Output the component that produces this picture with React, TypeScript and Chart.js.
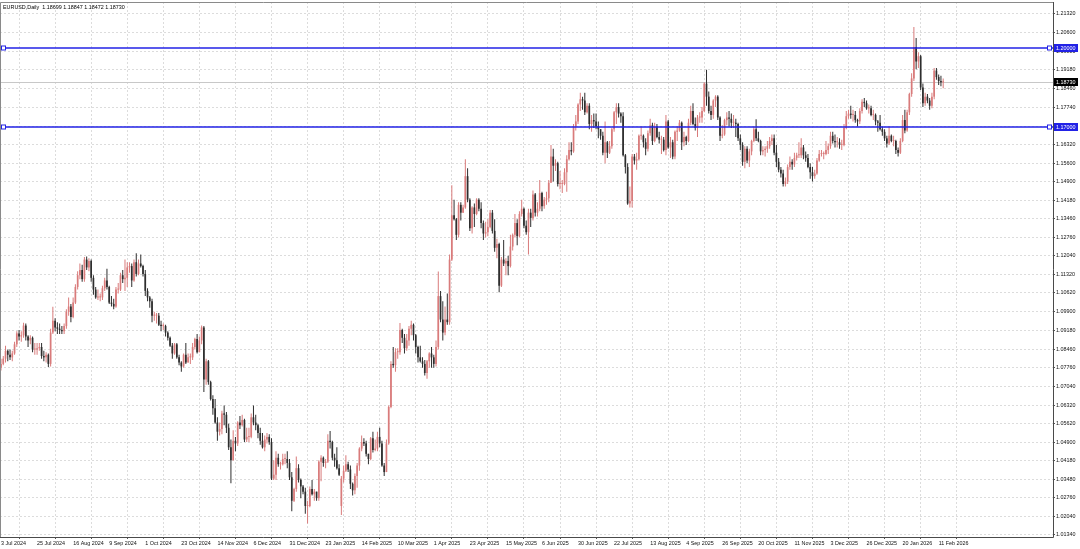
import { useEffect, useRef } from "react";
import { Chart, registerables } from "chart.js";

Chart.register(...registerables);

const SYMBOL_TITLE = "EURUSD,Daily";
const PIP = 10000;

const dateTickIndexes = [0, 16, 32, 48, 64, 80, 96, 112, 128, 144, 160, 176, 192, 208, 224, 240, 256, 272, 288, 304, 320, 336, 352, 368, 384, 400, 416];
const dateLabels = ["3 Jul 2024", "25 Jul 2024", "16 Aug 2024", "9 Sep 2024", "1 Oct 2024", "23 Oct 2024", "14 Nov 2024", "6 Dec 2024", "31 Dec 2024", "23 Jan 2025", "14 Feb 2025", "10 Mar 2025", "1 Apr 2025", "23 Apr 2025", "15 May 2025", "6 Jun 2025", "30 Jun 2025", "22 Jul 2025", "13 Aug 2025", "4 Sep 2025", "26 Sep 2025", "20 Oct 2025", "11 Nov 2025", "3 Dec 2025", "26 Dec 2025", "20 Jan 2026", "11 Feb 2026"];

const priceTicks = [1.2132, 1.206, 1.1988, 1.1918, 1.1846, 1.1774, 1.1702, 1.1632, 1.156, 1.149, 1.1418, 1.1346, 1.1276, 1.1204, 1.1132, 1.1062, 1.099, 1.0918, 1.0846, 1.0776, 1.0704, 1.0632, 1.0562, 1.049, 1.0418, 1.0348, 1.0276, 1.0204, 1.0134];

const levelLines = [1.2, 1.17];

// prices in pips (x 1e-4)
const opens = [
  10775, 10790, 10810,
  10840, 10825, 10815, 10830, 10865,
  10907, 10895, 10900, 10937, 10895,
  10880, 10890, 10845, 10845, 10850,
  10855, 10820, 10815, 10825, 10790,
  10910, 10955, 10930, 10925, 10920,
  10915, 10935, 10990, 11010, 10970,
  11025, 11085, 11130, 11150, 11115,
  11190, 11160, 11185, 11120, 11075,
  11045, 11045, 11045, 11080, 11110,
  11085, 11025, 11020, 11010, 11075,
  11075, 11130, 11115, 11120, 11160,
  11165, 11110, 11180, 11135, 11175,
  11165, 11135, 11070, 11045, 11030,
  10975, 10975, 10975, 10940, 10935,
  10935, 10910, 10890, 10860, 10830,
  10865, 10815, 10795, 10780, 10825,
  10795, 10815, 10815, 10855, 10885,
  10835, 10880, 10930, 10730, 10800,
  10720, 10655, 10620, 10565, 10530,
  10540, 10600, 10595, 10545, 10470,
  10420, 10495, 10485, 10565, 10555,
  10575, 10500, 10510, 10510, 10585,
  10565, 10555, 10525, 10495, 10470,
  10500, 10510, 10490, 10350, 10365,
  10430, 10405, 10405, 10425, 10425,
  10410, 10355, 10265, 10310, 10390,
  10345, 10320, 10300, 10245, 10245,
  10310, 10290, 10300, 10275, 10415,
  10430, 10410, 10415, 10495, 10490,
  10430, 10420, 10390, 10245, 10350,
  10380, 10405, 10385, 10330, 10305,
  10360, 10400, 10465, 10490, 10485,
  10445, 10425, 10505, 10460, 10465,
  10510, 10485, 10400, 10375, 10485,
  10625, 10790, 10785, 10835, 10835,
  10920, 10890, 10850, 10880, 10925,
  10940, 10900, 10855, 10815, 10800,
  10790, 10755, 10800, 10830, 10815,
  10790, 10855, 11050, 10960, 10910,
  10960, 10950, 11190, 11360, 11345,
  11285, 11400, 11370, 11390, 11510,
  11420, 11310, 11390, 11365, 11420,
  11385, 11330, 11290, 11295, 11315,
  11370, 11300, 11235, 11250, 11090,
  11190, 11175, 11185, 11165, 11240,
  11285, 11330, 11280, 11365, 11385,
  11320, 11295, 11370, 11350, 11440,
  11370, 11385, 11445, 11395, 11420,
  11425, 11485, 11585, 11550, 11560,
  11480, 11480, 11480, 11525, 11575,
  11610, 11605, 11700, 11720, 11785,
  11805, 11800, 11755, 11780, 11710,
  11725, 11720, 11700, 11690, 11665,
  11600, 11640, 11600, 11625, 11690,
  11755, 11775, 11750, 11740, 11590,
  11545, 11405, 11415, 11585, 11570,
  11575, 11665, 11665, 11640, 11615,
  11675, 11705, 11645, 11700, 11660,
  11650, 11650, 11610, 11720, 11620,
  11640, 11585, 11680, 11685, 11715,
  11640, 11660, 11645, 11715, 11760,
  11710, 11695, 11735, 11735, 11760,
  11865, 11815, 11760, 11745, 11800,
  11815, 11735, 11665, 11670, 11725,
  11735, 11730, 11715, 11715, 11710,
  11655, 11630, 11565, 11615, 11570,
  11605, 11645, 11690, 11655, 11645,
  11605, 11610, 11615, 11625, 11645,
  11655, 11600, 11565, 11535, 11520,
  11480, 11490, 11545, 11565, 11555,
  11580, 11590, 11590, 11620, 11590,
  11580, 11545, 11525, 11510, 11520,
  11570, 11595, 11595, 11595, 11610,
  11625, 11665, 11645, 11640, 11640,
  11630, 11630, 11695, 11740, 11750,
  11745, 11745, 11725, 11720, 11760,
  11795, 11790, 11770, 11770, 11745,
  11745, 11720, 11715, 11690, 11680,
  11655, 11635, 11665, 11645, 11645,
  11610, 11600, 11645, 11725, 11685,
  11755, 11825, 11885, 12005, 11950,
  11970, 11850, 11790, 11815, 11800,
  11780, 11815, 11915, 11890, 11875,
  11869.9,
];

const highs = [
  10810, 10820, 10860,
  10845, 10845, 10840, 10875, 10915,
  10920, 10915, 10948, 10945, 10900,
  10900, 10895, 10870, 10870, 10870,
  10870, 10840, 10835, 10830, 10925,
  11009, 10965, 10950, 10945, 10935,
  10945, 11000, 11045, 11020, 11045,
  11095, 11145, 11175, 11170, 11200,
  11202, 11195, 11190, 11130, 11085,
  11075, 11060, 11090, 11120, 11155,
  11090, 11050, 11040, 11085, 11100,
  11140, 11150, 11190, 11180, 11180,
  11175, 11190, 11214, 11190, 11210,
  11170, 11150, 11080, 11050, 11040,
  10990, 10985, 10985, 10955, 10945,
  10940, 10915, 10895, 10870, 10870,
  10870, 10825, 10800, 10830, 10870,
  10830, 10830, 10870, 10890, 10905,
  10895, 10937, 10935, 10810, 10805,
  10725, 10670, 10655, 10585, 10565,
  10610, 10630, 10605, 10560, 10500,
  10535, 10510, 10570, 10590, 10595,
  10580, 10545, 10545, 10600, 10630,
  10595, 10560, 10545, 10525, 10515,
  10525, 10520, 10505, 10420, 10455,
  10445, 10415, 10445, 10445, 10455,
  10425, 10375, 10315, 10435, 10405,
  10350, 10325, 10315, 10265, 10320,
  10345, 10310, 10300, 10420, 10440,
  10435, 10425, 10520, 10533, 10495,
  10445, 10470, 10405, 10360, 10400,
  10440, 10415, 10400, 10335, 10370,
  10410, 10470, 10515, 10505, 10495,
  10445, 10510, 10530, 10500, 10530,
  10545, 10495, 10410, 10500, 10630,
  10800, 10855, 10850, 10850, 10947,
  10925, 10905, 10905, 10935, 10955,
  10945, 10905, 10860, 10860, 10815,
  10805, 10805, 10835, 10855, 10825,
  10880, 11144, 11070, 11030, 11010,
  11060, 11210, 11475, 11420, 11350,
  11410, 11410, 11400, 11575, 11540,
  11425, 11395, 11405, 11425, 11425,
  11410, 11340, 11335, 11345, 11380,
  11380, 11345, 11270, 11255, 11200,
  11265, 11195, 11205, 11285, 11290,
  11365, 11345, 11375, 11420, 11390,
  11340, 11385, 11385, 11455, 11445,
  11410, 11495, 11450, 11430, 11450,
  11495, 11630, 11615, 11575, 11565,
  11530, 11495, 11540, 11590, 11640,
  11640, 11710, 11745, 11790, 11830,
  11815, 11830, 11790, 11790, 11745,
  11750, 11750, 11720, 11690, 11680,
  11720, 11645, 11645, 11695, 11760,
  11790, 11790, 11755, 11755, 11595,
  11560, 11470, 11595, 11595, 11600,
  11670, 11700, 11670, 11655, 11685,
  11730, 11715, 11715, 11710, 11680,
  11665, 11660, 11745, 11725, 11660,
  11650, 11685, 11700, 11725, 11720,
  11680, 11665, 11730, 11780, 11790,
  11735, 11745, 11755, 11775, 11870,
  11918, 11835, 11780, 11805, 11820,
  11820, 11740, 11705, 11730, 11755,
  11760, 11750, 11745, 11730, 11715,
  11670, 11640, 11625, 11625, 11615,
  11650, 11700, 11728, 11680, 11650,
  11625, 11625, 11645, 11660, 11670,
  11670, 11630, 11580, 11545, 11535,
  11505, 11555, 11585, 11575, 11600,
  11600, 11640, 11655, 11630, 11605,
  11595, 11560, 11545, 11535, 11580,
  11610, 11610, 11605, 11645, 11635,
  11680, 11680, 11670, 11660, 11655,
  11650, 11710, 11760, 11765, 11780,
  11765, 11760, 11730, 11770, 11805,
  11810, 11800, 11785, 11780, 11765,
  11750, 11725, 11745, 11700, 11690,
  11665, 11700, 11670, 11665, 11650,
  11620, 11655, 11745, 11765, 11765,
  11830, 11905, 12082, 12040, 11985,
  11975, 11865, 11830, 11825, 11810,
  11830, 11925, 11925, 11900, 11895,
  11884.7,
];

const lows = [
  10765, 10785, 10795,
  10800, 10805, 10800, 10825, 10855,
  10880, 10875, 10890, 10880, 10855,
  10865, 10835, 10825, 10825, 10840,
  10810, 10800, 10795, 10778, 10780,
  10905, 10915, 10905, 10905, 10905,
  10905, 10925, 10975, 10950, 10965,
  11020, 11075, 11115, 11105, 11105,
  11150, 11145, 11105, 11055, 11040,
  11035, 11030, 11035, 11070, 11075,
  11020, 11010, 11000, 11005, 11060,
  11070, 11100, 11070, 11085, 11140,
  11085, 11105, 11125, 11130, 11160,
  11125, 11050, 11030, 11005, 10950,
  10955, 10945, 10935, 10915, 10920,
  10895, 10880, 10855, 10810, 10825,
  10810, 10785, 10760, 10775, 10790,
  10795, 10790, 10805, 10845, 10830,
  10835, 10865, 10682, 10710, 10710,
  10650, 10595, 10560, 10495, 10515,
  10520, 10555, 10525, 10460, 10332,
  10420, 10455, 10475, 10540, 10550,
  10490, 10490, 10490, 10505, 10555,
  10535, 10505, 10480, 10465, 10455,
  10485, 10480, 10345, 10345, 10345,
  10395, 10385, 10400, 10405, 10390,
  10345, 10225, 10260, 10300, 10335,
  10275, 10290, 10215, 10178, 10240,
  10285, 10265, 10265, 10265, 10340,
  10395, 10390, 10410, 10465, 10420,
  10395, 10385, 10360, 10210, 10335,
  10375, 10375, 10310, 10285, 10290,
  10315, 10380, 10455, 10475, 10435,
  10405, 10420, 10450, 10455, 10455,
  10470, 10395, 10360, 10375, 10480,
  10620, 10775, 10760, 10810, 10825,
  10870, 10830, 10840, 10860, 10900,
  10880, 10830, 10795, 10795, 10775,
  10745, 10733, 10775, 10775, 10775,
  10780, 10845, 10950, 10880, 10900,
  10940, 10940, 11185, 11340, 11265,
  11275, 11340, 11370, 11385, 11410,
  11300, 11290, 11315, 11360, 11375,
  11310, 11265, 11275, 11280, 11310,
  11290, 11220, 11195, 11065, 11085,
  11165, 11130, 11130, 11160, 11225,
  11275, 11245, 11275, 11355, 11310,
  11285, 11210, 11315, 11340, 11355,
  11355, 11375, 11375, 11385, 11400,
  11410, 11485, 11490, 11530, 11470,
  11460, 11445, 11475, 11450, 11570,
  11590, 11600, 11685, 11710, 11760,
  11765, 11745, 11750, 11690, 11680,
  11695, 11690, 11655, 11650, 11590,
  11560, 11580, 11595, 11615, 11680,
  11710, 11735, 11715, 11585, 11520,
  11400, 11390, 11390, 11555, 11535,
  11570, 11650, 11620, 11590, 11605,
  11665, 11630, 11640, 11655, 11635,
  11595, 11605, 11590, 11615, 11580,
  11575, 11575, 11645, 11680, 11610,
  11625, 11630, 11640, 11705, 11705,
  11685, 11660, 11715, 11715, 11755,
  11780, 11750, 11725, 11730, 11775,
  11725, 11645, 11655, 11665, 11705,
  11700, 11695, 11695, 11660, 11645,
  11610, 11550, 11540, 11560, 11545,
  11590, 11640, 11645, 11640, 11590,
  11590, 11585, 11600, 11615, 11630,
  11590, 11545, 11525, 11505, 11470,
  11470, 11480, 11535, 11535, 11545,
  11570, 11580, 11580, 11575, 11565,
  11540, 11500, 11490, 11500, 11515,
  11565, 11585, 11575, 11590, 11595,
  11615, 11635, 11620, 11620, 11615,
  11610, 11625, 11690, 11730, 11730,
  11720, 11715, 11700, 11710, 11750,
  11775, 11765, 11750, 11740, 11725,
  11705, 11680, 11685, 11665, 11645,
  11620, 11630, 11640, 11625, 11595,
  11585, 11595, 11640, 11675, 11680,
  11745, 11815, 11875, 11920, 11925,
  11840, 11775, 11780, 11790, 11765,
  11770, 11805, 11880, 11860, 11855,
  11847.2,
];

const closes = [
  10790, 10810, 10840,
  10825, 10815, 10830, 10865, 10907,
  10895, 10900, 10937, 10895, 10880,
  10890, 10845, 10845, 10850, 10855,
  10820, 10815, 10825, 10790, 10910,
  10955, 10930, 10925, 10920, 10915,
  10935, 10990, 11010, 10970, 11025,
  11085, 11130, 11150, 11115, 11190,
  11160, 11185, 11120, 11075, 11045,
  11045, 11045, 11080, 11110, 11085,
  11025, 11020, 11010, 11075, 11075,
  11130, 11115, 11120, 11160, 11165,
  11110, 11180, 11135, 11175, 11165,
  11135, 11070, 11045, 11030, 10975,
  10975, 10975, 10940, 10935, 10935,
  10910, 10890, 10860, 10830, 10865,
  10815, 10795, 10780, 10825, 10795,
  10815, 10815, 10855, 10885, 10835,
  10880, 10930, 10730, 10800, 10720,
  10655, 10620, 10565, 10530, 10540,
  10600, 10595, 10545, 10470, 10420,
  10495, 10485, 10565, 10555, 10575,
  10500, 10510, 10510, 10585, 10565,
  10555, 10525, 10495, 10470, 10500,
  10510, 10490, 10350, 10365, 10430,
  10405, 10405, 10425, 10425, 10410,
  10355, 10265, 10310, 10390, 10345,
  10320, 10300, 10245, 10245, 10310,
  10290, 10300, 10275, 10415, 10430,
  10410, 10415, 10495, 10490, 10430,
  10420, 10390, 10365, 10350, 10380,
  10405, 10385, 10330, 10305, 10360,
  10400, 10465, 10490, 10485, 10445,
  10425, 10505, 10460, 10465, 10510,
  10485, 10400, 10375, 10485, 10625,
  10790, 10785, 10835, 10835, 10920,
  10890, 10850, 10880, 10925, 10940,
  10900, 10855, 10815, 10800, 10790,
  10755, 10800, 10830, 10815, 10790,
  10855, 11050, 10960, 10910, 10960,
  10950, 11190, 11360, 11345, 11285,
  11400, 11370, 11390, 11510, 11420,
  11310, 11390, 11365, 11420, 11385,
  11330, 11290, 11295, 11315, 11370,
  11300, 11235, 11250, 11090, 11190,
  11175, 11185, 11165, 11240, 11285,
  11330, 11280, 11365, 11385, 11320,
  11295, 11370, 11350, 11440, 11370,
  11385, 11445, 11395, 11420, 11425,
  11485, 11585, 11550, 11560, 11480,
  11480, 11480, 11525, 11575, 11610,
  11605, 11700, 11720, 11785, 11805,
  11800, 11755, 11780, 11710, 11725,
  11720, 11700, 11690, 11665, 11600,
  11640, 11600, 11625, 11690, 11755,
  11775, 11750, 11740, 11590, 11545,
  11405, 11415, 11585, 11570, 11575,
  11665, 11665, 11640, 11615, 11675,
  11705, 11645, 11700, 11660, 11650,
  11650, 11610, 11720, 11620, 11640,
  11585, 11680, 11685, 11715, 11640,
  11660, 11645, 11715, 11760, 11710,
  11695, 11735, 11735, 11760, 11865,
  11815, 11760, 11745, 11800, 11815,
  11735, 11665, 11670, 11725, 11735,
  11730, 11715, 11715, 11710, 11655,
  11630, 11565, 11615, 11570, 11605,
  11645, 11690, 11655, 11645, 11605,
  11610, 11615, 11625, 11645, 11655,
  11600, 11565, 11535, 11520, 11480,
  11490, 11545, 11565, 11555, 11580,
  11590, 11590, 11620, 11590, 11580,
  11545, 11525, 11510, 11520, 11570,
  11595, 11595, 11595, 11610, 11625,
  11665, 11645, 11640, 11640, 11630,
  11630, 11695, 11740, 11750, 11745,
  11745, 11725, 11720, 11760, 11795,
  11790, 11770, 11770, 11745, 11745,
  11720, 11715, 11690, 11680, 11655,
  11635, 11665, 11645, 11645, 11610,
  11600, 11645, 11725, 11685, 11755,
  11825, 11885, 12005, 11950, 11970,
  11850, 11790, 11815, 11800, 11780,
  11815, 11915, 11890, 11875, 11870,
  11873.0,
];

const BULL = "#d97b7b";
const BEAR = "#2e2e2e";
const LEVEL_BLUE = "#2222e6";
const FONT = '"Liberation Sans", Arial, sans-serif';
const FS = 5.4;

export default function App() {
  const ref = useRef<HTMLCanvasElement>(null);

  useEffect(() => {
    const canvas = ref.current;
    if (!canvas) return;
    const idx = closes.map((_, i) => i);
    const colors = idx.map((i) => (closes[i] >= opens[i] ? BULL : BEAR));
    const wickData = idx.map((i) => ({ x: i, y: [lows[i] / PIP, highs[i] / PIP] }));
    const bodyData = idx.map((i) => ({ x: i, y: [opens[i] / PIP, closes[i] / PIP] }));
    const last = closes.length - 1;
    const fmt = (v: number) => v.toFixed(5);
    const lastClose = closes[last] / PIP;

    const labelBox = (ctx: any, x: number, y: number, w: number, bg: string, text: string) => {
      ctx.fillStyle = bg;
      ctx.fillRect(x, Math.round(y) - 4, w, 8);
      ctx.fillStyle = "#ffffff";
      ctx.font = `${FS}px ${FONT}`;
      ctx.textAlign = "left";
      ctx.textBaseline = "middle";
      ctx.fillText(text, x + 2, Math.round(y) + 0.5);
    };

    const overlay = {
      id: "mtOverlay",
      beforeDraw(chart: any) {
        const ctx = chart.ctx;
        ctx.save();
        ctx.fillStyle = "#ffffff";
        ctx.fillRect(0, 0, chart.width, chart.height);
        ctx.restore();
      },
      beforeDatasetsDraw(chart: any) {
        const { ctx, chartArea: ca, scales } = chart;
        const y = Math.round(scales.y.getPixelForValue(lastClose)) + 0.5;
        ctx.save();
        ctx.strokeStyle = "#c8c8c8";
        ctx.lineWidth = 1;
        ctx.beginPath();
        ctx.moveTo(ca.left, y);
        ctx.lineTo(ca.right, y);
        ctx.stroke();
        ctx.restore();
      },
      afterDatasetsDraw(chart: any) {
        const { ctx, chartArea: ca, scales } = chart;
        ctx.save();
        levelLines.forEach((lv) => {
          const y = Math.round(scales.y.getPixelForValue(lv));
          ctx.strokeStyle = LEVEL_BLUE;
          ctx.lineWidth = 1.5;
          ctx.beginPath();
          ctx.moveTo(ca.left, y);
          ctx.lineTo(ca.right, y);
          ctx.stroke();
          ctx.lineWidth = 1;
          [ca.left + 1.5, ca.right - 5.5].forEach((hx) => {
            ctx.fillStyle = "#ffffff";
            ctx.fillRect(hx, y - 2, 4, 4);
            ctx.strokeRect(hx, y - 2, 4, 4);
          });
        });
        ctx.restore();
      },
      afterDraw(chart: any) {
        const { ctx, chartArea: ca, scales } = chart;
        ctx.save();
        // frame
        ctx.strokeStyle = "#8a8a8a";
        ctx.lineWidth = 1;
        ctx.beginPath();
        ctx.moveTo(ca.left + 0.5, ca.bottom);
        ctx.lineTo(ca.left + 0.5, ca.top + 0.5);
        ctx.lineTo(ca.right, ca.top + 0.5);
        ctx.stroke();
        ctx.strokeStyle = "#4a4a4a";
        ctx.beginPath();
        ctx.moveTo(ca.right + 0.5, ca.top);
        ctx.lineTo(ca.right + 0.5, ca.bottom + 0.5);
        ctx.lineTo(ca.left, ca.bottom + 0.5);
        ctx.stroke();
        // price labels
        levelLines.forEach((lv) => {
          labelBox(ctx, ca.right + 1, scales.y.getPixelForValue(lv), 24, LEVEL_BLUE, fmt(lv));
        });
        labelBox(ctx, ca.right + 1, scales.y.getPixelForValue(lastClose), 24, "#000000", fmt(lastClose));
        // title
        ctx.fillStyle = "#000000";
        ctx.font = `${FS}px ${FONT}`;
        ctx.textAlign = "left";
        ctx.textBaseline = "middle";
        const t = `${SYMBOL_TITLE}  ${fmt(opens[last] / PIP)} ${fmt(highs[last] / PIP)} ${fmt(lows[last] / PIP)} ${fmt(lastClose)}`;
        ctx.fillText(t, 3, 7.5);
        ctx.restore();
      },
    };

    const chart = new Chart(canvas, {
      type: "bar",
      data: {
        datasets: [
          {
            label: "body",
            data: bodyData as any,
            backgroundColor: colors,
            borderWidth: 0,
            barPercentage: 0.75,
            categoryPercentage: 1,
            maxBarThickness: 1.8,
            minBarLength: 1,
            grouped: false,
            inflateAmount: 0,
            order: 0,
          } as any,
          {
            label: "wick",
            data: wickData as any,
            backgroundColor: colors,
            borderWidth: 0,
            barPercentage: 1,
            categoryPercentage: 1,
            maxBarThickness: 1,
            minBarLength: 1,
            grouped: false,
            inflateAmount: 0,
            order: 1,
          } as any,
        ],
      },
      options: {
        responsive: false,
        devicePixelRatio: 1,
        animation: false,
        events: [],
        layout: { padding: { top: 2, left: 0, right: 0, bottom: 0 } },
        plugins: {
          legend: { display: false },
          tooltip: { enabled: false },
          title: { display: false },
        },
        scales: {
          x: {
            type: "linear",
            position: "bottom",
            min: -0.45,
            max: 466.72,
            offset: false,
            afterBuildTicks: (scale: any) => {
              scale.ticks = dateTickIndexes.map((v) => ({ value: v }));
            },
            afterFit: (scale: any) => {
              scale.height = 12;
              scale.paddingLeft = 0;
              scale.paddingRight = 0;
            },
            ticks: {
              callback: (_v: any, i: number) => dateLabels[i],
              align: "start",
              maxRotation: 0,
              minRotation: 0,
              autoSkip: false,
              padding: 1,
              color: "#111111",
              font: { family: FONT, size: FS },
            },
            grid: {
              color: "#dcdcdc",
              lineWidth: 1,
              drawTicks: true,
              tickLength: 2,
              tickColor: "#555555",
            },
            border: { display: false, dash: [2, 2] },
          },
          y: {
            type: "linear",
            position: "right",
            min: 1.0126,
            max: 1.2178,
            afterBuildTicks: (scale: any) => {
              scale.ticks = priceTicks.map((v) => ({ value: v }));
            },
            afterFit: (scale: any) => {
              scale.width = 27;
              scale.paddingTop = 0;
              scale.paddingBottom = 0;
            },
            ticks: {
              callback: (v: any) => Number(v).toFixed(5),
              padding: 1,
              color: "#111111",
              font: { family: FONT, size: FS },
              autoSkip: false,
            },
            grid: {
              color: "#dcdcdc",
              lineWidth: 1,
              drawTicks: true,
              tickLength: 2,
              tickColor: "#555555",
            },
            border: { display: false, dash: [2, 2] },
          },
        },
      } as any,
      plugins: [overlay as any],
    });

    return () => {
      chart.destroy();
    };
  }, []);

  return (
    <div style={{ position: "absolute", left: 0, top: 0, width: 1080, height: 549, background: "#ffffff" }}>
      <canvas ref={ref} width={1080} height={549} style={{ display: "block" }} />
    </div>
  );
}
